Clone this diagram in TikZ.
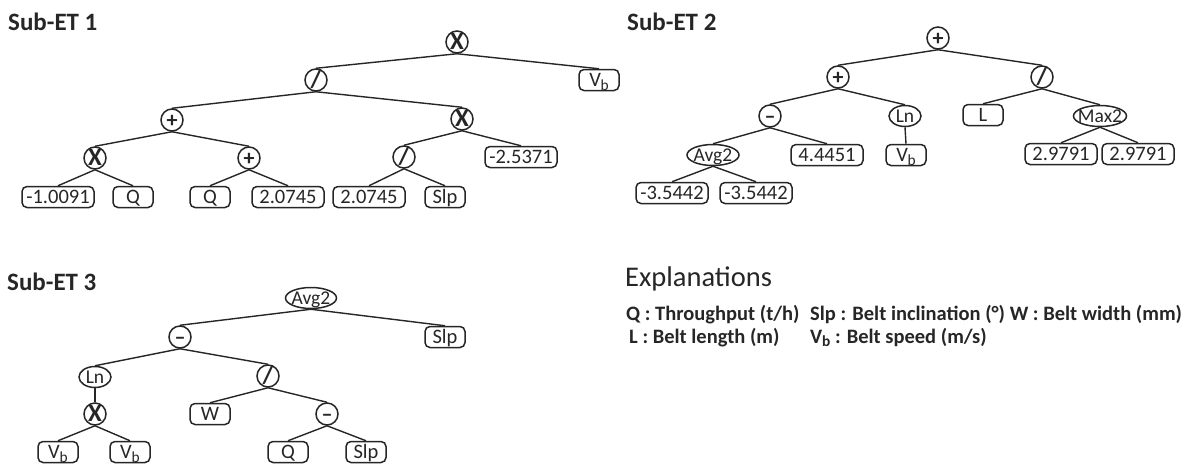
\documentclass[tikz,border=0pt]{standalone}
\usepackage{fontspec}
\usepackage{graphicx}
\setmainfont{Carlito}
\usetikzlibrary{shapes.geometric}
\definecolor{ink}{HTML}{262626}
\newcommand\tight[1]{\makebox[0pt]{\raisebox{-0.32em}[0pt][0pt]{#1}}}
\newcommand\myvb{V\kern-0.01em\raisebox{-0.17em}{\scalebox{0.75}{b}}}
\newcommand\opx{\fontsize{25}{25}\selectfont X}
\newcommand\opdiv{\fontsize{25}{25}\selectfont /}
\tikzset{
 every node/.style={text=ink},
 op/.style={circle, draw=ink, line width=1.5pt, minimum size=22pt, inner sep=0pt, font=\fontsize{22}{22}\selectfont\bfseries},
 fn/.style={ellipse, draw=ink, line width=1.5pt, minimum height=21pt, inner sep=0pt, font=\fontsize{19.5}{19.5}\selectfont},
 leaf/.style={draw=ink, rounded corners=5pt, line width=1.5pt, minimum height=21pt, inner sep=0pt, font=\fontsize{20.5}{20.5}\selectfont},
 wa/.style={minimum width=40pt},
 wb/.style={minimum width=72pt},
 link/.style={draw=ink, line width=1.4pt},
 title/.style={anchor=base west, inner sep=0pt, font=\fontsize{25}{25}\selectfont\bfseries},
 expl/.style={anchor=base west, inner sep=0pt, font=\fontsize{20.5}{20.5}\selectfont\bfseries}
}
\begin{document}
\begin{tikzpicture}[x=1pt,y=-1pt]
\useasboundingbox (0,0) rectangle (1195,467);
% ---------- Sub-ET 1 ----------
\node[title] (t1) at (8,30) {Sub-ET 1};
\node[op] (a0) at (457,42) {\tight{\opx}};
\node[op] (a1) at (316,80) {\tight{\opdiv}};
\node[leaf,wa] (a2) at (599,80) {\tight{\myvb}};
\node[op] (a3) at (172,120) {\tight{+}};
\node[op] (a4) at (462,119) {\tight{\opx}};
\node[op] (a5) at (95,158) {\tight{\opx}};
\node[op] (a6) at (249,158) {\tight{+}};
\node[op] (a7) at (404,157) {\tight{\opdiv}};
\node[leaf,wb] (a8) at (521,157) {\tight{-2.5371}};
\node[leaf,wb] (a9) at (58,197) {\tight{-1.0091}};
\node[leaf,wa] (a10) at (133,197) {\tight{Q}};
\node[leaf,wa] (a11) at (210,197) {\tight{Q}};
\node[leaf,wb] (a12) at (288,197) {\tight{2.0745}};
\node[leaf,wb] (a13) at (369,197) {\tight{2.0745}};
\node[leaf,wa] (a14) at (445,197) {\tight{Slp}};
\foreach \p/\c in {a0/a1,a0/a2,a1/a3,a1/a4,a3/a5,a3/a6,a4/a7,a4/a8,a5/a9,a5/a10,a6/a11,a6/a12,a7/a13,a7/a14}
  \path[link] (\p.south) -- (\c.north);
% ---------- Sub-ET 2 ----------
\node[title] (t2) at (627,30) {Sub-ET 2};
\node[op] (b0) at (938,38) {\tight{+}};
\node[op] (b1) at (838,77) {\tight{+}};
\node[op] (b2) at (1042,77) {\tight{\opdiv}};
\node[op] (b3) at (770,116) {\tight{–}};
\node[fn, minimum width=32pt] (b4) at (905,116) {\tight{Ln}};
\node[leaf,wa] (b5) at (983,115) {\tight{L}};
\node[fn, minimum width=53pt] (b6) at (1100,116) {\tight{Max2}};
\node[fn, minimum width=52pt] (b7) at (713,155) {\tight{Avg2}};
\node[leaf,wb] (b8) at (827,155) {\tight{4.4451}};
\node[leaf,wa] (b9) at (906,155) {\tight{\myvb}};
\node[leaf,wb] (b10) at (1061,154) {\tight{2.9791}};
\node[leaf,wb] (b11) at (1138,154) {\tight{2.9791}};
\node[leaf,wb] (b12) at (672,193) {\tight{-3.5442}};
\node[leaf,wb] (b13) at (756,193) {\tight{-3.5442}};
\foreach \p/\c in {b0/b1,b0/b2,b1/b3,b1/b4,b2/b5,b2/b6,b3/b7,b3/b8,b4/b9,b6/b10,b6/b11,b7/b12,b7/b13}
  \path[link] (\p.south) -- (\c.north);
% ---------- Sub-ET 3 ----------
\node[title] (t3) at (7,290) {Sub-ET 3};
\node[fn, minimum width=51pt] (c0) at (311,298) {\tight{Avg2}};
\node[op] (c1) at (180,337) {\tight{–}};
\node[leaf,wa] (c2) at (445,337) {\tight{Slp}};
\node[fn, minimum width=32pt] (c3) at (95,377) {\tight{Ln}};
\node[op] (c4) at (268,376) {\tight{\opdiv}};
\node[op] (c5) at (95,414) {\tight{\opx}};
\node[leaf,wa] (c6) at (210,414) {\tight{W}};
\node[op] (c7) at (327,414) {\tight{–}};
\node[leaf,wa] (c8) at (58,452) {\tight{\myvb}};
\node[leaf,wa] (c9) at (130,452) {\tight{\myvb}};
\node[leaf,wa] (c10) at (288,452) {\tight{Q}};
\node[leaf,wa] (c11) at (366,452) {\tight{Slp}};
\foreach \p/\c in {c0/c1,c0/c2,c1/c3,c1/c4,c3/c5,c4/c6,c4/c7,c5/c8,c5/c9,c7/c10,c7/c11}
  \path[link] (\p.south) -- (\c.north);
% ---------- Explanations ----------
\node[anchor=base west, inner sep=0pt, font=\fontsize{28.5}{28.5}\selectfont] (e0) at (625,286) {Explanations};
\node[expl] (e1) at (626,320) {Q : Throughput (t/h)};
\node[expl] (e2) at (810,320) {Slp : Belt inclination (°) W : Belt width (mm)};
\node[expl] (e3) at (629,343) {L : Belt length (m)};
\node[expl] (e4) at (810,343) {\myvb{} : Belt speed (m/s)};
\end{tikzpicture}
\end{document}
